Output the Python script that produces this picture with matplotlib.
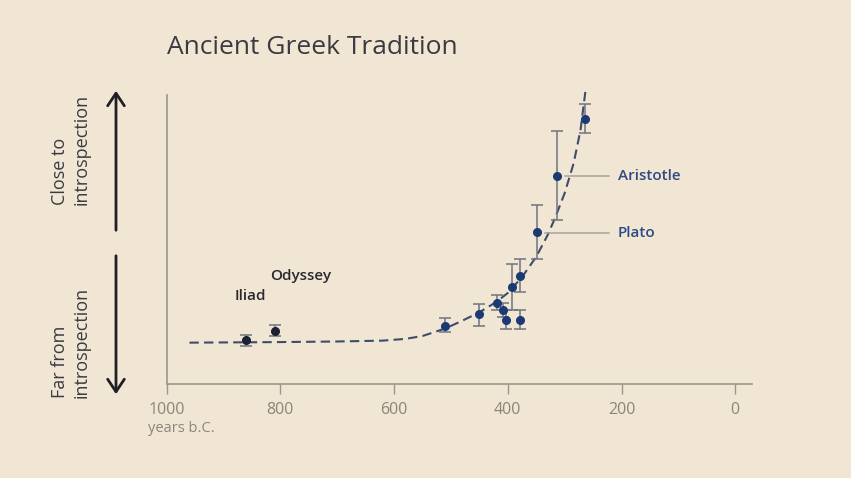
import matplotlib
matplotlib.use("Agg")
import matplotlib.pyplot as plt

plt.rcParams['font.family'] = ['Open Sans', 'DejaVu Sans']

BG = '#f1e6d3'
NAVY = '#1b3a73'
DARK = '#1c2030'
GRAY = '#9a958b'
ERR = '#6e7482'

# Data (years b.C., introspection score on arbitrary 0-100 scale)
years_epic = [860, 809]
score_epic = [15.2, 18.4]
err_lo_epic = [2.1, 1.8]
err_hi_epic = [1.9, 2.0]

years = [510, 450, 419, 409, 403, 379, 392, 379, 349, 313, 265]
score = [20.2, 24.1, 28.1, 25.6, 22.1, 22.1, 33.7, 37.4, 52.5, 72.1, 91.7]
err_lo = [2.3, 3.9, 2.5, 2.5, 3.1, 3.1, 8.1, 5.6, 9.2, 15.4, 4.7]
err_hi = [2.5, 3.6, 2.7, 2.5, 3.5, 3.5, 7.8, 5.7, 9.6, 15.4, 5.1]

fit_years = [960, 800, 700, 620, 580, 550, 530, 510, 480, 450, 420, 400, 375,
             350, 330, 317, 300, 284, 272, 263]
fit_score = [14.3, 14.5, 14.7, 15.0, 15.6, 16.6, 17.9, 19.2, 21.9, 24.8, 28.4,
             31.5, 37.0, 44.0, 51.5, 57.4, 66.0, 76.5, 88.0, 102.0]

xticks = [1000, 800, 600, 400, 200, 0]

fig = plt.figure(figsize=(8.51, 4.78), dpi=100)
fig.patch.set_facecolor(BG)
ax = fig.add_axes([0.1959, 0.1967, 0.6874, 0.6288])
ax.set_facecolor(BG)

ax.plot(fit_years, fit_score, color='#3e4c6a', lw=1.5, ls=(0, (4.5, 2.5)),
        zorder=2, clip_on=False)

ax.errorbar(years_epic, score_epic, yerr=[err_lo_epic, err_hi_epic], fmt='o',
            color=DARK, ms=5.5, ecolor=ERR, elinewidth=1.1, capsize=4.5,
            capthick=1.1, zorder=3)
ax.errorbar(years, score, yerr=[err_lo, err_hi], fmt='o', color=NAVY, ms=5.5,
            ecolor=ERR, elinewidth=1.1, capsize=4.5, capthick=1.1, zorder=3)

ax.set_xlim(1000, -29)
ax.set_ylim(0, 104)
ax.set_xticks(xticks)
ax.set_xticklabels([str(t) for t in xticks], fontsize=11.5, color='#8a857c')
ax.set_yticks([])
ax.tick_params(axis='x', length=7, width=1, color=GRAY, pad=6)
for s in ['top', 'right']:
    ax.spines[s].set_visible(False)
ax.spines['left'].set_bounds(0, 100)
for s in ['left', 'bottom']:
    ax.spines[s].set_color(GRAY)
    ax.spines[s].set_linewidth(1.2)

# Leader lines and labels
ax.plot([299, 222], [72.1, 72.1], color='#a9a49a', lw=1.1)
ax.plot([334, 222], [52.3, 52.3], color='#a9a49a', lw=1.1)
ax.text(206, 72.1, 'Aristotle', color='#2e4a87', fontsize=11, fontweight='semibold',
        va='center', ha='left')
ax.text(206, 52.3, 'Plato', color='#2e4a87', fontsize=11, fontweight='semibold',
        va='center', ha='left')
ax.text(880, 30.4, 'Iliad', color='#2a2a30', fontsize=11, fontweight='semibold',
        va='center', ha='left')
ax.text(818, 37.4, 'Odyssey', color='#2a2a30', fontsize=11, fontweight='semibold',
        va='center', ha='left')

# Title
fig.text(167 / 851, 1 - 48 / 478, 'Ancient Greek Tradition', fontsize=19,
         color='#3a3a42', va='center', ha='left')

# x-axis unit
fig.text(148 / 851, 1 - 428 / 478, 'years b.C.', fontsize=10.5, color='#8a857c',
         va='center', ha='left')

# Arrows on the left
fig.patches.append(matplotlib.patches.FancyArrowPatch(
    (116 / 851, 1 - 233 / 478), (116 / 851, 1 - 88 / 478),
    transform=fig.transFigure, arrowstyle='->,head_length=6,head_width=4',
    color='#1e1e24', lw=2, mutation_scale=1.5))
fig.patches.append(matplotlib.patches.FancyArrowPatch(
    (116 / 851, 1 - 253 / 478), (116 / 851, 1 - 397 / 478),
    transform=fig.transFigure, arrowstyle='->,head_length=6,head_width=4',
    color='#1e1e24', lw=2, mutation_scale=1.5))

fig.text(71 / 851, 1 - 205 / 478, 'Close to\nintrospection', rotation=90,
         fontsize=13, color='#3a3a42', ha='left', va='center',
         multialignment='left', linespacing=1.25, rotation_mode='anchor')
fig.text(71 / 851, 1 - 398 / 478, 'Far from\nintrospection', rotation=90,
         fontsize=13, color='#3a3a42', ha='left', va='center',
         multialignment='left', linespacing=1.25, rotation_mode='anchor')

fig.savefig('out.png', dpi=100, facecolor=BG)
